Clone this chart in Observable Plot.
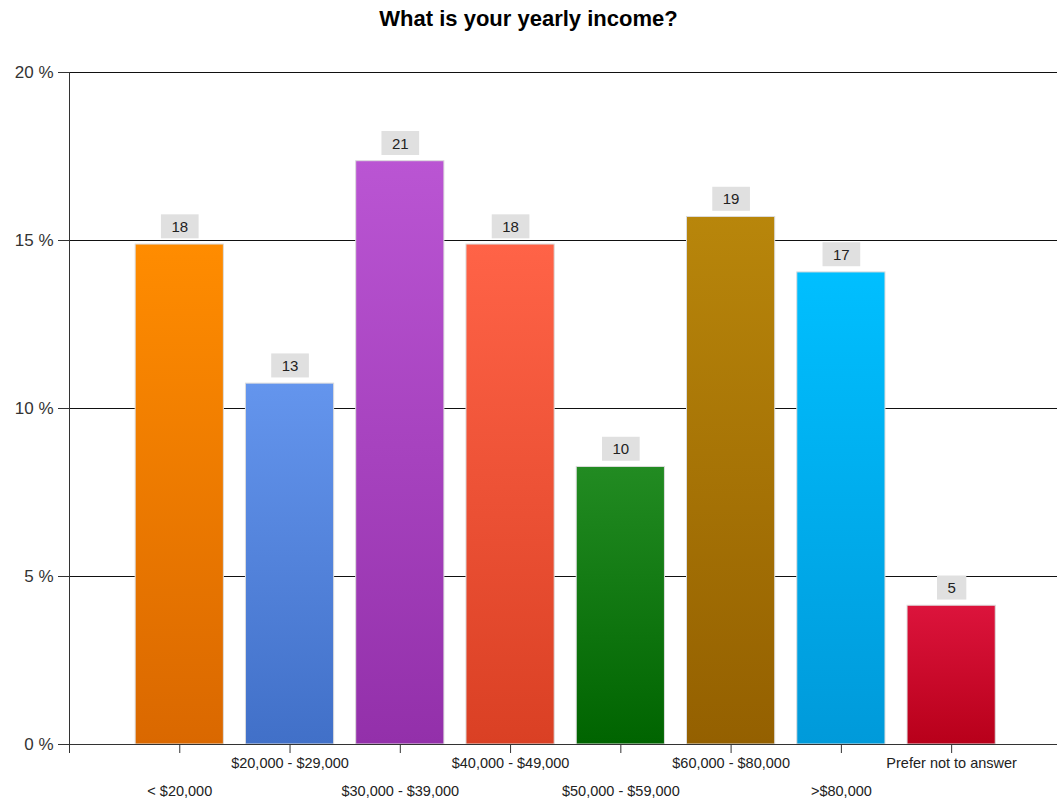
<!DOCTYPE html>
<html><head><meta charset="utf-8">
<script src="https://cdn.jsdelivr.net/npm/d3@7"></script>
<script src="https://cdn.jsdelivr.net/npm/@observablehq/plot@0.6"></script>
<style>
body{margin:0;background:#fff;font-family:"Liberation Sans",Arial,sans-serif;}
#title{width:1057px;height:40px;text-align:center;font-weight:bold;font-size:22px;line-height:38px;color:#000;}
#chart svg{display:block;}
</style></head><body>
<div id="title">What is your yearly income?</div>
<div id="chart"></div>
<script>
const categories = ["< $20,000", "$20,000 - $29,000", "$30,000 - $39,000", "$40,000 - $49,000",
  "$50,000 - $59,000", "$60,000 - $80,000", ">$80,000", "Prefer not to answer"];
const counts = [18, 13, 21, 18, 10, 19, 17, 5];
const percents = [14.88, 10.74, 17.36, 14.88, 8.26, 15.70, 14.05, 4.13];
const yTicks = [0, 5, 10, 15, 20];
const topColors = ["#FF8C00", "#6495ED", "#BA55D3", "#FF6347", "#228B22", "#B8860B", "#00BFFF", "#DC143C"];
const bottomColors = ["#DA6800", "#4170C8", "#9330AA", "#DA4024", "#006400", "#946000", "#009ADA", "#B8001A"];

const data = categories.map((c, i) => ({
  category: c, pos: i + 1, count: counts[i], pct: percents[i], grad: `url(#grad${i})`
}));
const positions = d3.range(0, categories.length + 1);
const lower = positions.filter(p => p % 2 === 1);
const upper = positions.filter(p => p > 0 && p % 2 === 0);

const plot = Plot.plot({
  width: 1057, height: 758,
  marginLeft: 69, marginRight: 0, marginTop: 32, marginBottom: 54,
  style: {fontFamily: "Liberation Sans, Arial, sans-serif", background: "#fff", color: "#222"},
  x: {type: "linear", domain: [0, 8.96], axis: null, label: null},
  y: {domain: [0, 20], axis: null, label: null},
  color: {type: "identity"},
  marks: [
    Plot.gridY(yTicks.filter(t => t > 0), {stroke: "#111", strokeOpacity: 1}),
    Plot.rect(data, {x1: d => d.pos - 0.4, x2: d => d.pos + 0.4, y1: 0, y2: "pct",
      fill: "grad", stroke: "#dcdcdc", strokeWidth: 1}),
    Plot.ruleX([0], {stroke: "#333"}),
    Plot.ruleY([0], {stroke: "#333"}),
    Plot.axisY({ticks: yTicks, tickSize: 11, tickPadding: 5, tickFormat: d => `${d} %`,
      fontSize: 17, color: "#333", label: null}),
    Plot.axisX({ticks: positions, tickSize: 9, tickFormat: () => "", color: "#333", label: null}),
    Plot.axisX({ticks: upper, tickSize: 0, tickPadding: 13, tickFormat: p => categories[p - 1],
      fontSize: 14.5, color: "#222", label: null}),
    Plot.axisX({ticks: lower, tickSize: 0, tickPadding: 41, tickFormat: p => categories[p - 1],
      fontSize: 14.5, color: "#222", label: null}),
    Plot.text(data, {x: "pos", y: "pct", text: d => String(d.count), dy: -17.5,
      fontSize: 15, fill: "#222", lineAnchor: "middle"})
  ]
});
document.getElementById("chart").append(plot);

const svg = d3.select(plot);
const defs = svg.insert("defs", ":first-child");
topColors.forEach((c, i) => {
  const g = defs.append("linearGradient").attr("id", `grad${i}`)
    .attr("x1", 0).attr("y1", 0).attr("x2", 0).attr("y2", 1);
  g.append("stop").attr("offset", "0%").attr("stop-color", c);
  g.append("stop").attr("offset", "100%").attr("stop-color", bottomColors[i]);
});
svg.selectAll('g[aria-label="text"] text').each(function () {
  const b = this.getBBox();
  const r = document.createElementNS("http://www.w3.org/2000/svg", "rect");
  r.setAttribute("x", b.x - 10.5);
  r.setAttribute("y", b.y - 3.5);
  r.setAttribute("width", b.width + 21);
  r.setAttribute("height", b.height + 7);
  r.setAttribute("fill", "#e0e0e0");
  const t = this.getAttribute("transform");
  if (t) r.setAttribute("transform", t);
  this.parentNode.insertBefore(r, this);
});
</script>
</body></html>
